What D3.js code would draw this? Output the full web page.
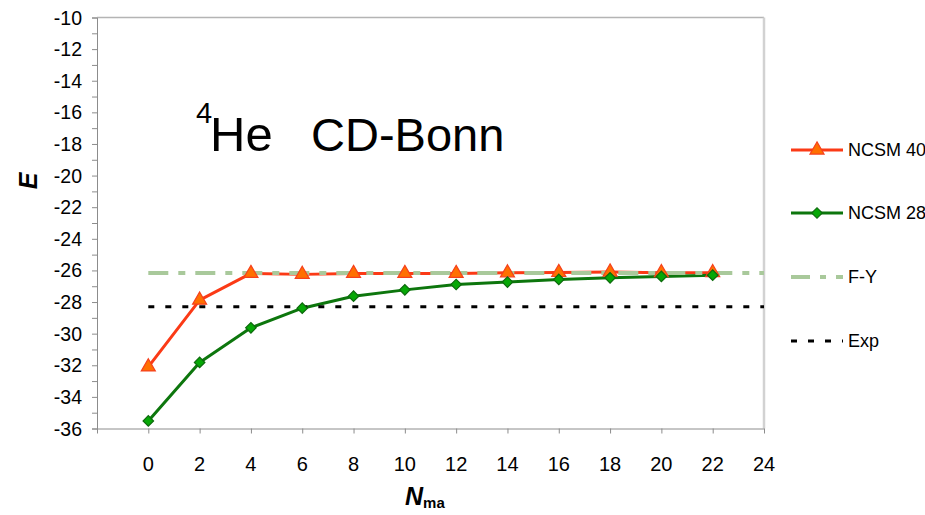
<!DOCTYPE html>
<html>
<head>
<meta charset="utf-8">
<script src="https://cdn.jsdelivr.net/npm/d3@7"></script>
<style>
  html, body { margin: 0; padding: 0; background: #fff; }
  svg { display: block; font-family: "Liberation Sans", Arial, Helvetica, sans-serif; }
</style>
</head>
<body>
<svg id="chart" width="925" height="515"></svg>
<script>
// Model-space truncation N_max
const nmax = [0, 2, 4, 6, 8, 10, 12, 14, 16, 18, 20, 22];
// NCSM binding energies (MeV) for two-body cutoffs
const ncsm40 = [-32.1, -27.88, -26.19, -26.25, -26.19, -26.19, -26.19, -26.15, -26.13, -26.10, -26.14, -26.14];
const ncsm28 = [-35.52, -31.82, -29.63, -28.39, -27.63, -27.23, -26.89, -26.74, -26.57, -26.47, -26.38, -26.30];
// Reference energies
const fyEnergy = -26.16;
const expEnergy = -28.30;
// Axis ticks
const xTicks = [-2, 0, 2, 4, 6, 8, 10, 12, 14, 16, 18, 20, 22, 24];
const yTicks = [-36, -34, -32, -30, -28, -26, -24, -22, -20, -18, -16, -14, -12, -10];
const yMinorTicks = d3.range(-36, -9, 1);

const svg = d3.select("#chart");
const x = d3.scaleLinear().domain([-2, 24]).range([97, 764]);
const y = d3.scaleLinear().domain([-36, -10]).range([428.5, 17.5]);

// plot frame (top and right edges)
svg.append("line").attr("x1", x(-2)).attr("x2", x(24)).attr("y1", y(-10)).attr("y2", y(-10))
  .attr("stroke", "#b4b4b4").attr("stroke-width", 1.5);
svg.append("line").attr("x1", x(24)).attr("x2", x(24)).attr("y1", y(-10)).attr("y2", y(-36))
  .attr("stroke", "#d2d2d2").attr("stroke-width", 2.5);

// y axis: minor ticks every unit, labels every 2
const yAxisG = svg.append("g").attr("transform", `translate(${x(-2)},0)`)
  .call(d3.axisLeft(y).tickValues(yMinorTicks).tickSize(5).tickFormat(""));
yAxisG.select(".domain").attr("stroke", "#8c8c8c");
yAxisG.selectAll(".tick line").attr("stroke", "#8c8c8c");
svg.append("g").selectAll("text").data(yTicks).join("text")
  .attr("x", 82).attr("y", d => y(d)).attr("dy", "0.36em")
  .attr("text-anchor", "end").attr("font-size", 19.5).attr("fill", "#000")
  .text(d => d3.format("d")(d).replace("−", "-"));

// x axis: ticks every 2, labels from 0
const xAxisG = svg.append("g").attr("transform", `translate(0,${y(-36)})`)
  .call(d3.axisBottom(x).tickValues(xTicks).tickSize(5).tickSizeOuter(0).tickFormat(""));
xAxisG.select(".domain").attr("stroke", "#8c8c8c");
xAxisG.selectAll(".tick line").attr("stroke", "#8c8c8c");
svg.append("g").selectAll("text").data(xTicks.filter(d => d >= 0)).join("text")
  .attr("x", d => x(d)).attr("y", 471).attr("text-anchor", "middle")
  .attr("font-size", 20).attr("fill", "#000").text(d => d);

// axis titles
svg.append("text").attr("transform", "translate(37,181) rotate(-90)")
  .attr("text-anchor", "middle").attr("font-size", 25).attr("font-weight", "bold")
  .attr("font-style", "italic").text("E");
const xt = svg.append("text").attr("x", 405).attr("y", 505).attr("font-weight", "bold");
xt.append("tspan").attr("font-size", 25).attr("font-style", "italic").text("N");
xt.append("tspan").attr("font-size", 15).attr("dy", 3).text("ma");

// title
const title = svg.append("g").attr("fill", "#000");
title.append("text").attr("x", 196).attr("y", 123).attr("font-size", 29).text("4");
title.append("text").attr("x", 210).attr("y", 151).attr("font-size", 49).text("He");
title.append("text").attr("x", 311).attr("y", 151).attr("font-size", 47).text("CD-Bonn");

const line = d3.line().x((d, i) => x(nmax[i])).y(d => y(d));

// series lines
svg.append("path").datum(ncsm40).attr("d", line).attr("fill", "none")
  .attr("stroke", "#fb3a16").attr("stroke-width", 3).attr("stroke-linejoin", "round");
svg.append("path").datum(ncsm28).attr("d", line).attr("fill", "none")
  .attr("stroke", "#0d760d").attr("stroke-width", 3).attr("stroke-linejoin", "round");

// reference lines
svg.append("line").attr("x1", x(0)).attr("x2", x(24)).attr("y1", y(fyEnergy)).attr("y2", y(fyEnergy))
  .attr("stroke", "#a9c99b").attr("stroke-width", 4).attr("stroke-dasharray", "20,10,7,10");
svg.append("line").attr("x1", x(0)).attr("x2", x(24)).attr("y1", y(expEnergy)).attr("y2", y(expEnergy))
  .attr("stroke", "#000").attr("stroke-width", 3).attr("stroke-dasharray", "6,11");

// markers
const tri = d3.symbol().type(d3.symbolTriangle).size(85);
const dia = d3.symbol().type(d3.symbolSquare).size(55);
svg.append("g").selectAll("path").data(ncsm40).join("path")
  .attr("d", tri).attr("transform", (d, i) => `translate(${x(nmax[i])},${y(d)})`)
  .attr("fill", "#ff7000").attr("stroke", "#f6401c").attr("stroke-width", 1.2);
svg.append("g").selectAll("path").data(ncsm28).join("path")
  .attr("d", dia).attr("transform", (d, i) => `translate(${x(nmax[i])},${y(d)}) rotate(45)`)
  .attr("fill", "#06a806").attr("stroke", "#0d6a0d").attr("stroke-width", 1.2);

// legend
const legend = [
  { label: "NCSM 40", y: 150, color: "#fb3a16", w: 3, dash: null, marker: "tri" },
  { label: "NCSM 28", y: 213, color: "#0d760d", w: 3, dash: null, marker: "dia" },
  { label: "F-Y", y: 277, color: "#a9c99b", w: 4, dash: "19,10,6,10", marker: null },
  { label: "Exp", y: 341, color: "#000", w: 3, dash: "6,11", marker: null }
];
const lg = svg.append("g").selectAll("g").data(legend).join("g");
lg.append("line").attr("x1", 791).attr("x2", 843).attr("y1", d => d.y).attr("y2", d => d.y)
  .attr("stroke", d => d.color).attr("stroke-width", d => d.w)
  .attr("stroke-dasharray", d => d.dash);
lg.filter(d => d.marker === "tri").append("path").attr("d", tri)
  .attr("transform", d => `translate(817,${d.y})`)
  .attr("fill", "#ff7000").attr("stroke", "#f6401c").attr("stroke-width", 1.2);
lg.filter(d => d.marker === "dia").append("path").attr("d", dia)
  .attr("transform", d => `translate(817,${d.y}) rotate(45)`)
  .attr("fill", "#06a806").attr("stroke", "#0d6a0d").attr("stroke-width", 1.2);
lg.append("text").attr("x", 848).attr("y", d => d.y).attr("dy", "0.36em")
  .attr("font-size", 18).attr("fill", "#000").text(d => d.label);
</script>
</body>
</html>
